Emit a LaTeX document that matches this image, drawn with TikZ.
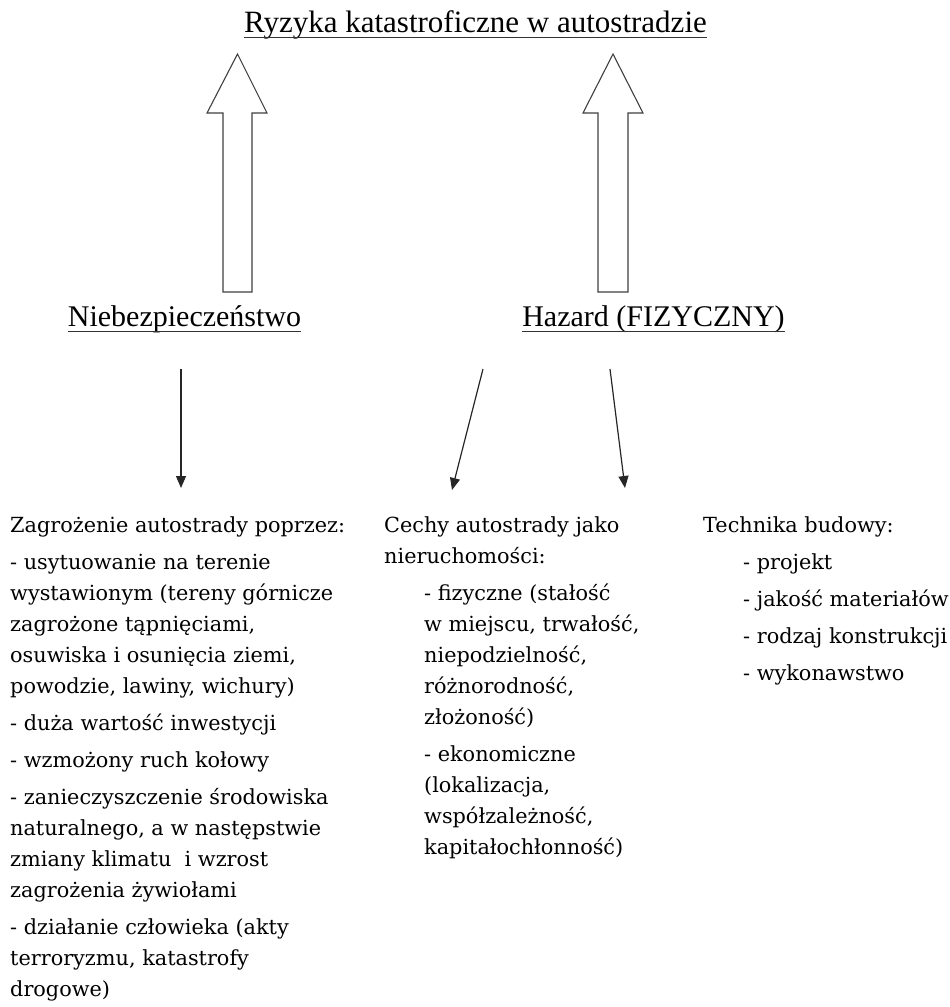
\documentclass[tikz,border=0pt]{standalone}
\usepackage{fontspec}
\setmainfont{Liberation Serif}
\newfontfamily\bodyfont{DejaVu Serif}
\usetikzlibrary{arrows.meta}
\tikzset{
  head/.style={inner sep=0pt, anchor=base, font=\fontsize{30}{36}\selectfont},
  body/.style={inner sep=0pt, anchor=base west, font=\bodyfont\fontsize{20.8}{31}\selectfont},
  blockarrow/.style={draw=black!75, line width=1.1pt, fill=white, line join=miter},
  thinarrow/.style={draw=black!85, line width=1.2pt, -{Triangle[length=12pt,width=10pt]}},
  uline/.style={draw=black!80, line width=1.3pt}
}
\begin{document}
\begin{tikzpicture}[x=1pt,y=-1pt]
\useasboundingbox (0,0) rectangle (950,1007);
% title and headings
\node[head, font=\fontsize{31}{36}\selectfont] (title) at (475.5,32) {Ryzyka katastroficzne w autostradzie};
\draw[uline] ([yshift=-5.5pt]title.base west) -- ([yshift=-5.5pt]title.base east);
\node[head] (nieb) at (184.5,326) {Niebezpieczeństwo};
\draw[uline] ([yshift=-5.5pt]nieb.base west) -- ([yshift=-5.5pt]nieb.base east);
\node[head] (haz) at (653.5,326) {Hazard (FIZYCZNY)};
\draw[uline] ([yshift=-5.5pt]haz.base west) -- ([yshift=-5.5pt]haz.base east);
% block arrows
\draw[blockarrow] (237.5,54) -- (267,113) -- (252,113) -- (252,292) -- (223,292) -- (223,113) -- (207,113) -- cycle;
\draw[blockarrow] (613,54) -- (643,113) -- (628,113) -- (628,292) -- (598,292) -- (598,113) -- (583,113) -- cycle;
% thin arrows
\coordinate (d1s) at (181,369);
\coordinate (d1e) at (181,488);
\coordinate (d2s) at (483,369);
\coordinate (d2e) at (452,490);
\coordinate (d3s) at (610,369);
\coordinate (d3e) at (625,488);
\draw[thinarrow] (d1s) -- (d1e);
\draw[thinarrow] (d2s) -- (d2e);
\draw[thinarrow] (d3s) -- (d3e);
% column 1
\node[body] (a1) at (10,532) {Zagrożenie autostrady poprzez:};
\node[body] (a2) at (10,569) {- usytuowanie na terenie};
\node[body] (a3) at (10,600) {wystawionym (tereny górnicze};
\node[body] (a4) at (10,631) {zagrożone tąpnięciami,};
\node[body] (a5) at (10,662) {osuwiska i osunięcia ziemi,};
\node[body] (a6) at (10,693) {powodzie, lawiny, wichury)};
\node[body] (a7) at (10,730) {- duża wartość inwestycji};
\node[body] (a8) at (10,767) {- wzmożony ruch kołowy};
\node[body] (a9) at (10,804) {- zanieczyszczenie środowiska};
\node[body] (a10) at (10,835) {naturalnego, a w następstwie};
\node[body] (a11) at (10,866) {zmiany klimatu \ i wzrost};
\node[body] (a12) at (10,897) {zagrożenia żywiołami};
\node[body] (a13) at (10,934) {- działanie człowieka (akty};
\node[body] (a14) at (10,965) {terroryzmu, katastrofy};
\node[body] (a15) at (10,996) {drogowe)};
% column 2
\node[body] (b1) at (384,532) {Cechy autostrady jako};
\node[body] (b2) at (384,563) {nieruchomości:};
\node[body] (b3) at (424,600) {- fizyczne (stałość};
\node[body] (b4) at (424,631) {w miejscu, trwałość,};
\node[body] (b5) at (424,662) {niepodzielność,};
\node[body] (b6) at (424,693) {różnorodność,};
\node[body] (b7) at (424,724) {złożoność)};
\node[body] (b8) at (424,761) {- ekonomiczne};
\node[body] (b9) at (424,792) {(lokalizacja,};
\node[body] (b10) at (424,823) {współzależność,};
\node[body] (b11) at (424,854) {kapitałochłonność)};
% column 3
\node[body] (c1) at (703,532) {Technika budowy:};
\node[body] (c2) at (743,569) {- projekt};
\node[body] (c3) at (743,606) {- jakość materiałów};
\node[body] (c4) at (743,643) {- rodzaj konstrukcji};
\node[body] (c5) at (743,680) {- wykonawstwo};
\end{tikzpicture}
\end{document}
